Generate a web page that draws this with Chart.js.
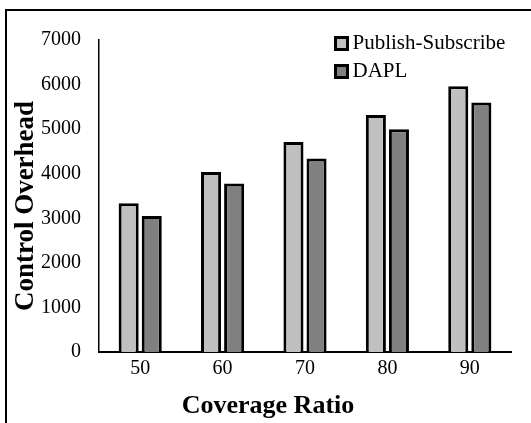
<!DOCTYPE html>
<html>
<head>
<meta charset="utf-8">
<script src="https://cdn.jsdelivr.net/npm/chart.js@4.4.0/dist/chart.umd.min.js"></script>
<style>
  body { margin: 0; background: #fff; }
  #wrap { position: relative; width: 531px; height: 423px; overflow: hidden; }
  #frame { position: absolute; left: 5px; top: 9px; width: 600px; height: 500px; border: 2px solid #000; }
  #myChart { position: absolute; left: 0; top: 0; }
</style>
</head>
<body>
<div id="wrap">
  <div id="frame"></div>
  <canvas id="myChart" width="531" height="423"></canvas>
</div>
<script>
const categories = ['50', '60', '70', '80', '90'];
const publishSubscribe = [3340, 4040, 4710, 5320, 5960];
const dapl = [3050, 3780, 4340, 5000, 5600];
const yTickLabels = ['0', '1000', '2000', '3000', '4000', '5000', '6000', '7000'];
const xTitle = 'Coverage Ratio';
const yTitle = 'Control Overhead';

Chart.defaults.font.family = '"Liberation Serif", "Times New Roman", serif';
Chart.defaults.color = '#000';

// legend sits inside the plot, top right, in one column
const legendSpot = {
  id: 'legendSpot',
  beforeInit(chart) {
    const fit = chart.legend.fit;
    chart.legend.fit = function () {
      fit.call(this);
      this.width = 0;
    };
  },
  afterLayout(chart) {
    const lg = chart.legend;
    lg.left = 334;
    lg.top = 26;
    lg.right = 531;
    lg.bottom = 130;
    lg.width = lg.right - lg.left;
    lg.height = lg.bottom - lg.top;
  }
};

// axis titles, placed like the excel original
const axisTitles = {
  id: 'axisTitles',
  afterDraw(chart) {
    const ctx = chart.ctx;
    ctx.save();
    ctx.fillStyle = '#000';
    ctx.textAlign = 'center';
    ctx.textBaseline = 'middle';
    ctx.font = 'bold 26px "Liberation Serif", serif';
    ctx.fillText(xTitle, 268, 406);
    ctx.translate(26, 206);
    ctx.rotate(-Math.PI / 2);
    ctx.font = 'bold 27px "Liberation Serif", serif';
    ctx.fillText(yTitle, 0, 0);
    ctx.restore();
  }
};

const ctx = document.getElementById('myChart');

new Chart(ctx, {
  type: 'bar',
  data: {
    labels: categories,
    datasets: [{
      label: 'Publish-Subscribe',
      data: publishSubscribe,
      backgroundColor: '#c0c0c0',
      borderColor: '#000',
      borderWidth: 3
    }, {
      label: 'DAPL',
      data: dapl,
      backgroundColor: '#808080',
      borderColor: '#000',
      borderWidth: 3
    }]
  },
  options: {
    responsive: false,
    animation: false,
    devicePixelRatio: 1,
    categoryPercentage: 0.56,
    barPercentage: 0.87,
    layout: { padding: { top: 40, right: 20, bottom: 0, left: 0 } },
    plugins: {
      tooltip: { enabled: false },
      legend: {
        position: 'right',
        align: 'start',
        labels: {
          usePointStyle: true,
          pointStyle: 'rect',
          boxWidth: 1,
          boxHeight: 12,
          padding: 7,
          color: '#000',
          font: { size: 21 }
        }
      }
    },
    scales: {
      x: {
        grid: { display: false, drawTicks: false },
        border: { display: true, color: '#000', width: 2 },
        ticks: { padding: 5, color: '#000', font: { size: 20 } },
        afterFit(scale) { scale.height = 71; }
      },
      y: {
        min: 0,
        max: 7000,
        grid: { display: false, drawTicks: false },
        border: { display: true, color: '#000', width: 1.5 },
        ticks: {
          stepSize: 1000,
          padding: 18,
          color: '#000',
          font: { size: 20 },
          callback: (v, i) => yTickLabels[i]
        },
        afterFit(scale) { scale.width = 99; }
      }
    }
  },
  plugins: [legendSpot, axisTitles]
});
</script>
</body>
</html>
